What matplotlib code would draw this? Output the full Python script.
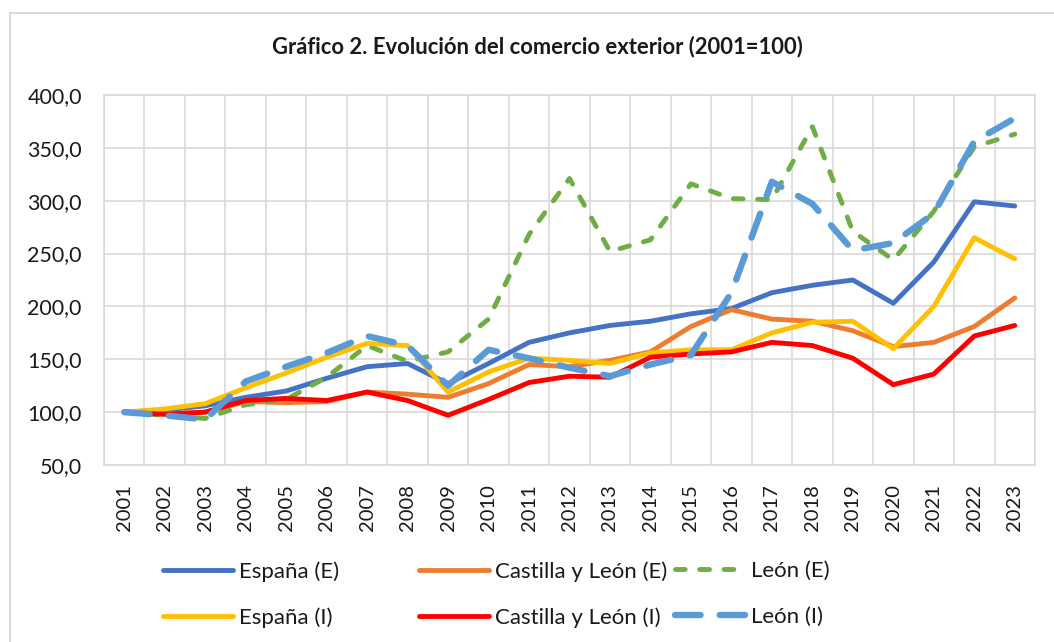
import numpy as np
import matplotlib

matplotlib.use('Agg')

import matplotlib.pyplot as plt
from matplotlib.lines import Line2D
from matplotlib.ticker import FuncFormatter, MultipleLocator

# data (index 2001=100)
years = [str(y) for y in range(2001, 2024)]

espana_e = [100, 102, 106, 114, 120, 132, 143, 146, 127, 146, 166, 175,
            182, 186, 193, 198, 213, 220, 225, 203, 242, 299, 295]
cyl_e = [100, 98, 100, 110, 109, 110, 119, 117, 114, 127, 145, 143,
         149, 157, 181, 197, 188, 186, 177, 162, 166, 181, 208]
leon_e = [100, 97, 94, 107, 112, 133, 163, 148, 157, 188, 268, 321,
          252, 263, 316, 302, 301, 370, 271, 244, 290, 351, 363]
espana_i = [100, 103, 108, 123, 137, 152, 165, 163, 119, 138, 151, 149,
            146, 156, 159, 159, 175, 185, 186, 160, 200, 265, 245]
cyl_i = [100, 98, 100, 111, 113, 111, 119, 111, 97, 112, 128, 134,
         133, 152, 155, 157, 166, 163, 151, 126, 136, 172, 182]
leon_i = [100, 97, 93, 129, 143, 156, 172, 163, 125, 159, 151, 142,
          134, 145, 154, 213, 318, 297, 253, 260, 288, 356, 378]

labels = ["España (E)", "Castilla y León (E)", "León (E)",
          "España (I)", "Castilla y León (I)", "León (I)"]

plt.rcParams['font.family'] = ['Lato', 'DejaVu Sans']

W, H = 1054, 642
fig = plt.figure(figsize=(W / 100, H / 100), dpi=100)

# axes box in pixels: left 104, right 1035, top 95, bottom 465
ax = fig.add_axes([104 / W, 1 - 465 / H, (1035 - 104) / W, (465 - 95) / H])

x = np.arange(len(years))
grid_c = '#d9d9d9'

solid_lw = 3.5
l1, = ax.plot(x, espana_e, color='#4472C4', lw=solid_lw, solid_capstyle='round', label=labels[0])
l2, = ax.plot(x, cyl_e, color='#ED7D31', lw=solid_lw, solid_capstyle='round', label=labels[1])
l3, = ax.plot(x, leon_e, color='#70AD47', lw=3.5, dash_capstyle='round', label=labels[2])
l3.set_dashes((2, 3))
l4, = ax.plot(x, espana_i, color='#FFC000', lw=solid_lw, solid_capstyle='round', label=labels[3])
l5, = ax.plot(x, cyl_i, color='#FF0000', lw=solid_lw, solid_capstyle='round', label=labels[4])
l6, = ax.plot(x, leon_i, color='#5B9BD5', lw=4.6, dash_capstyle='round', label=labels[5])
l6.set_dashes((4, 3))

ax.set_xlim(-0.5, len(years) - 0.5)
ax.set_ylim(50, 400)
ax.yaxis.set_major_locator(MultipleLocator(50))
ax.yaxis.set_major_formatter(FuncFormatter(lambda v, p: f"{v:.1f}".replace('.', ',')))
ax.set_xticks(x)
ax.set_xticklabels(years, rotation=90)
ax.set_xticks(np.arange(-0.5, len(years), 1), minor=True)

ax.grid(True, which='major', axis='y', color=grid_c, lw=1.2)
ax.grid(True, which='minor', axis='x', color=grid_c, lw=1.2)
ax.set_axisbelow(True)
for s in ax.spines.values():
    s.set_color(grid_c)
    s.set_linewidth(1.2)

ax.tick_params(axis='both', which='both', length=0, colors='#1a1a1a')
ax.tick_params(axis='y', labelsize=15.5, pad=16)
ax.tick_params(axis='x', labelsize=14.5, pad=14)

fig.text(537 / W, 1 - 47 / H, "Gráfico 2. Evolución del comercio exterior (2001=100)",
         ha='center', va='center', fontsize=15.8, fontweight='bold', color='#1a1a1a')

# legend: three columns, each its own two-row legend
cols = [([l1, l4], 163), ([l2, l5], 419), ([l3, l6], 675)]
for handles, xpx in cols:
    leg = fig.legend(handles=handles, labels=[h.get_label() for h in handles],
                     loc='upper left', bbox_to_anchor=(xpx / W, 1 - 561 / H),
                     frameon=False, fontsize=16, handlelength=3.15,
                     handletextpad=0.27, labelspacing=1.15, borderpad=0,
                     borderaxespad=0)
    for t in leg.get_texts():
        t.set_color('#1a1a1a')

# outer chart border (top and left visible)
fig.add_artist(Line2D([9.5 / W, 1], [1 - 12.5 / H, 1 - 12.5 / H], color=grid_c, lw=1.5))
fig.add_artist(Line2D([9.5 / W, 9.5 / W], [0, 1 - 12.5 / H], color=grid_c, lw=1.5))

fig.savefig('out.png', dpi=100)
